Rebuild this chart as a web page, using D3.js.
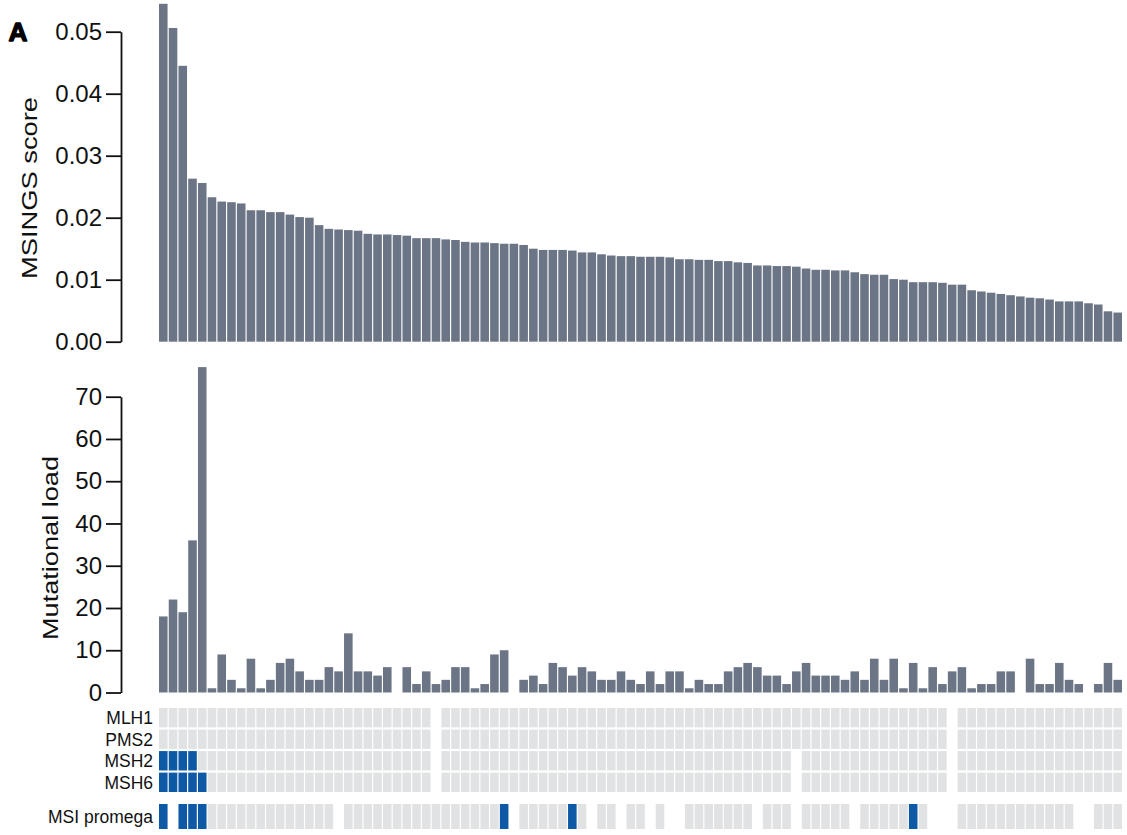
<!DOCTYPE html>
<html>
<head>
<meta charset="utf-8">
<script src="https://cdn.jsdelivr.net/npm/d3@7"></script>
<style>
  html, body { margin: 0; padding: 0; background: #ffffff; }
  svg { display: block; }
</style>
</head>
<body>
<svg id="chart" width="1127" height="835"></svg>
<script>
// ---- data: one entry per tumour sample, sorted by MSINGS score ----
const NA = null;

const msingsScore = [
  0.0545, 0.0506, 0.0445, 0.0263, 0.0256, 0.0233, 0.0226, 0.0225, 0.0223, 0.0212,
  0.0212, 0.0209, 0.0209, 0.0205, 0.0201, 0.0200, 0.0188, 0.0182, 0.0181, 0.0180,
  0.0179, 0.0174, 0.0173, 0.0173, 0.0172, 0.0171, 0.0167, 0.0167, 0.0167, 0.0165,
  0.0164, 0.0161, 0.0160, 0.0160, 0.0159, 0.0158, 0.0158, 0.0156, 0.0150, 0.0148,
  0.0148, 0.0148, 0.0147, 0.0144, 0.0144, 0.0141, 0.0139, 0.0138, 0.0138, 0.0137,
  0.0137, 0.0137, 0.0136, 0.0133, 0.0133, 0.0132, 0.0132, 0.0130, 0.0130, 0.0128,
  0.0127, 0.0123, 0.0123, 0.0122, 0.0122, 0.0121, 0.0118, 0.0116, 0.0116, 0.0115,
  0.0115, 0.0112, 0.0109, 0.0108, 0.0108, 0.0101, 0.0100, 0.0096, 0.0096, 0.0096,
  0.0095, 0.0092, 0.0092, 0.0083, 0.0081, 0.0079, 0.0077, 0.0075, 0.0073, 0.0071,
  0.0070, 0.0068, 0.0065, 0.0065, 0.0065, 0.0062, 0.0060, 0.0049, 0.0047
];

const mutationalLoad = [
  18, 22, 19, 36, 77,  1,  9,  3,  1,  8,
   1,  3,  7,  8,  5,  3,  3,  6,  5, 14,
   5,  5,  4,  6, NA,  6,  2,  5,  2,  3,
   6,  6,  1,  2,  9, 10, NA,  3,  4,  2,
   7,  6,  4,  6,  5,  3,  3,  5,  3,  2,
   5,  2,  5,  5,  1,  3,  2,  2,  5,  6,
   7,  6,  4,  4,  2,  5,  7,  4,  4,  4,
   3,  5,  3,  8,  3,  8,  1,  7,  1,  6,
   2,  5,  6,  1,  2,  2,  5,  5, NA,  8,
   2,  2,  7,  3,  2, NA,  2,  7,  3
];

// immunohistochemistry: 1 = protein loss, 0 = retained, NA = not tested
const mlh1 = [
  0, 0, 0, 0, 0, 0, 0, 0, 0, 0,
  0, 0, 0, 0, 0, 0, 0, 0, 0, 0,
  0, 0, 0, 0, 0, 0, 0, 0, NA, 0,
  0, 0, 0, 0, 0, 0, 0, 0, 0, 0,
  0, 0, 0, 0, 0, 0, 0, 0, 0, 0,
  0, 0, 0, 0, 0, 0, 0, 0, 0, 0,
  0, 0, 0, 0, 0, 0, 0, 0, 0, 0,
  0, 0, 0, 0, 0, 0, 0, 0, 0, 0,
  0, NA, 0, 0, 0, 0, 0, 0, 0, 0,
  0, 0, 0, 0, 0, 0, 0, 0, 0
];
const pms2 = [
  0, 0, 0, 0, 0, 0, 0, 0, 0, 0,
  0, 0, 0, 0, 0, 0, 0, 0, 0, 0,
  0, 0, 0, 0, 0, 0, 0, 0, NA, 0,
  0, 0, 0, 0, 0, 0, 0, 0, 0, 0,
  0, 0, 0, 0, 0, 0, 0, 0, 0, 0,
  0, 0, 0, 0, 0, 0, 0, 0, 0, 0,
  0, 0, 0, 0, 0, 0, 0, 0, 0, 0,
  0, 0, 0, 0, 0, 0, 0, 0, 0, 0,
  0, NA, 0, 0, 0, 0, 0, 0, 0, 0,
  0, 0, 0, 0, 0, 0, 0, 0, 0
];
const msh2 = [
  1, 1, 1, 1, 0, 0, 0, 0, 0, 0,
  0, 0, 0, 0, 0, 0, 0, 0, 0, 0,
  0, 0, 0, 0, 0, 0, 0, 0, NA, 0,
  0, 0, 0, 0, 0, 0, 0, 0, 0, 0,
  0, 0, 0, 0, 0, 0, 0, 0, 0, 0,
  0, 0, 0, 0, 0, 0, 0, 0, 0, 0,
  0, 0, 0, 0, 0, NA, 0, 0, 0, 0,
  0, 0, 0, 0, 0, 0, 0, 0, 0, 0,
  0, NA, 0, 0, 0, 0, 0, 0, 0, 0,
  0, 0, 0, 0, 0, 0, 0, 0, 0
];
const msh6 = [
  1, 1, 1, 1, 1, 0, 0, 0, 0, 0,
  0, 0, 0, 0, 0, 0, 0, 0, 0, 0,
  0, 0, 0, 0, 0, 0, 0, 0, NA, 0,
  0, 0, 0, 0, 0, 0, 0, 0, 0, 0,
  0, 0, 0, 0, 0, 0, 0, 0, 0, 0,
  0, 0, 0, 0, 0, 0, 0, 0, 0, 0,
  0, 0, 0, 0, 0, NA, 0, 0, 0, 0,
  0, 0, 0, 0, 0, 0, 0, 0, 0, 0,
  0, NA, 0, 0, 0, 0, 0, 0, 0, 0,
  0, 0, 0, 0, 0, 0, 0, 0, 0
];
// Promega MSI analysis: 1 = MSI-high, 0 = stable, NA = not tested
const msiPromega = [
  1, NA, 1, 1, 1, 0, 0, 0, 0, 0,
  0, 0, 0, 0, 0, 0, 0, 0, NA, 0,
  0, 0, 0, 0, 0, 0, 0, 0, 0, 0,
  0, 0, 0, 0, 0, 1, NA, 0, 0, 0,
  0, 0, 1, 0, NA, 0, 0, NA, 0, 0,
  NA, 0, NA, NA, 0, 0, 0, 0, 0, 0,
  0, NA, 0, 0, 0, NA, 0, 0, 0, 0,
  0, NA, 0, 0, 0, 0, 0, 1, 0, NA,
  NA, NA, 0, 0, 0, 0, 0, 0, 0, 0,
  0, 0, 0, 0, NA, NA, 0, 0, 0
];

const scoreTicks = [0, 0.01, 0.02, 0.03, 0.04, 0.05];
const loadTicks = [0, 10, 20, 30, 40, 50, 60, 70];
const geneLabels = ["MLH1", "PMS2", "MSH2", "MSH6"];
const geneValues = [mlh1, pms2, msh2, msh6];

// ---- styling ----
const barColor = "#6b7586";
const cellColor = "#e1e2e3";
const lossColor = "#0d59a5";
const font = "'Liberation Sans', Arial, Helvetica, sans-serif";

const svg = d3.select("#chart");

const x = d3.scaleBand()
  .domain(d3.range(msingsScore.length))
  .range([159, 1122])
  .paddingInner(0.12)
  .paddingOuter(0);

const yScore = d3.scaleLinear().domain([0, 0.05]).range([341.7, 31.7]);
const yLoad = d3.scaleLinear().domain([0, 70]).range([692.5, 396.7]);

function styleAxis(g) {
  g.attr("font-family", font).attr("font-size", 24);
  g.select(".domain").attr("stroke", "#111").attr("stroke-width", 1.8);
  g.selectAll(".tick line").attr("stroke", "#111").attr("stroke-width", 1.8);
  g.selectAll(".tick text").attr("fill", "#111");
}

// ---- panel 1: MSINGS score ----
svg.append("g")
  .selectAll("rect")
  .data(msingsScore)
  .join("rect")
  .attr("x", (d, i) => x(i))
  .attr("y", d => yScore(d))
  .attr("width", x.bandwidth())
  .attr("height", d => yScore(0) - yScore(d))
  .attr("fill", barColor);

svg.append("g")
  .attr("transform", "translate(121,0)")
  .call(d3.axisLeft(yScore)
    .tickValues(scoreTicks)
    .tickFormat(d3.format(".2f"))
    .tickSize(15)
    .tickSizeOuter(0)
    .tickPadding(4))
  .call(styleAxis);

svg.append("text")
  .attr("transform", "translate(37,188) rotate(-90)")
  .attr("text-anchor", "middle")
  .attr("font-family", font)
  .attr("font-size", 22)
  .attr("textLength", 182)
  .attr("lengthAdjust", "spacingAndGlyphs")
  .attr("fill", "#111")
  .text("MSINGS score");

// panel letter
svg.append("text")
  .attr("x", 8.5)
  .attr("y", 41)
  .attr("font-family", font)
  .attr("font-size", 26)
  .attr("font-weight", 900)
  .attr("stroke", "#000")
  .attr("stroke-width", 1.3)
  .attr("stroke-linejoin", "round")
  .attr("textLength", 19)
  .attr("lengthAdjust", "spacingAndGlyphs")
  .attr("fill", "#000")
  .text("A");

// ---- panel 2: mutational load ----
const loadData = mutationalLoad
  .map((v, i) => ({ i, v }))
  .filter(d => d.v !== NA);

svg.append("g")
  .selectAll("rect")
  .data(loadData)
  .join("rect")
  .attr("x", d => x(d.i))
  .attr("y", d => yLoad(d.v))
  .attr("width", x.bandwidth())
  .attr("height", d => yLoad(0) - yLoad(d.v))
  .attr("fill", barColor);

svg.append("g")
  .attr("transform", "translate(121,0)")
  .call(d3.axisLeft(yLoad)
    .tickValues(loadTicks)
    .tickFormat(d3.format("d"))
    .tickSize(15)
    .tickSizeOuter(0)
    .tickPadding(4))
  .call(styleAxis);

svg.append("text")
  .attr("transform", "translate(58,548) rotate(-90)")
  .attr("text-anchor", "middle")
  .attr("font-family", font)
  .attr("font-size", 22)
  .attr("textLength", 184)
  .attr("lengthAdjust", "spacingAndGlyphs")
  .attr("fill", "#111")
  .text("Mutational load");

// ---- panel 3: MMR immunohistochemistry and MSI status ----
const yGene = d3.scaleBand()
  .domain(geneLabels)
  .range([708, 792])
  .paddingInner(0.1);

const geneCells = [];
geneLabels.forEach((g, r) => {
  geneValues[r].forEach((v, i) => {
    if (v !== NA) geneCells.push({ gene: g, i, v });
  });
});

svg.append("g")
  .selectAll("rect")
  .data(geneCells)
  .join("rect")
  .attr("x", d => x(d.i))
  .attr("y", d => yGene(d.gene))
  .attr("width", x.bandwidth())
  .attr("height", yGene.bandwidth())
  .attr("fill", d => d.v === 1 ? lossColor : cellColor);

svg.append("g")
  .selectAll("text")
  .data(geneLabels)
  .join("text")
  .attr("x", 153)
  .attr("y", d => yGene(d) + yGene.bandwidth() / 2)
  .attr("dy", "0.36em")
  .attr("text-anchor", "end")
  .attr("font-family", font)
  .attr("font-size", 17.5)
  .attr("fill", "#111")
  .text(d => d);

const promegaTop = 804;
const promegaHeight = 25;
const promegaCells = msiPromega
  .map((v, i) => ({ i, v }))
  .filter(d => d.v !== NA);

svg.append("g")
  .selectAll("rect")
  .data(promegaCells)
  .join("rect")
  .attr("x", d => x(d.i))
  .attr("y", promegaTop)
  .attr("width", x.bandwidth())
  .attr("height", promegaHeight)
  .attr("fill", d => d.v === 1 ? lossColor : cellColor);

svg.append("text")
  .attr("x", 153)
  .attr("y", promegaTop + promegaHeight / 2)
  .attr("dy", "0.36em")
  .attr("text-anchor", "end")
  .attr("font-family", font)
  .attr("font-size", 17.5)
  .attr("fill", "#111")
  .text("MSI promega");
</script>
</body>
</html>
